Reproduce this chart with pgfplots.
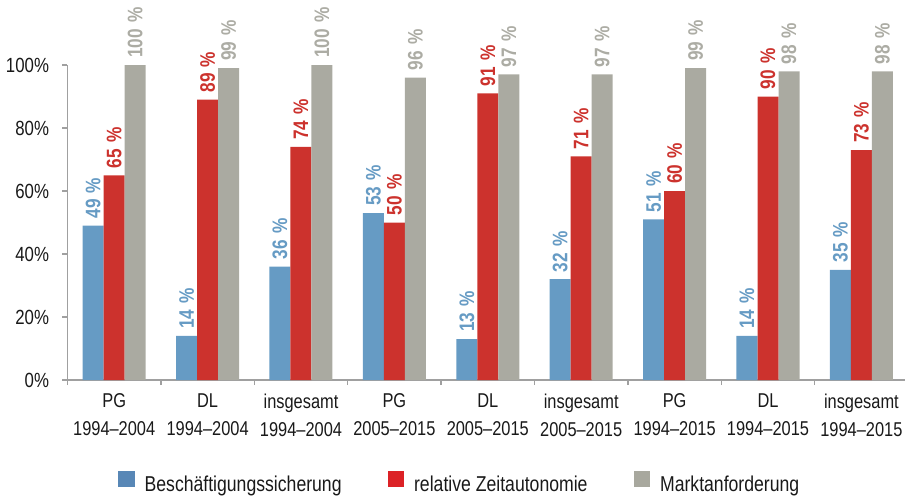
\documentclass[border=0pt]{standalone}
\usepackage{pgfplots}
\pgfplotsset{compat=1.18}
\usepackage{fontspec}
\setmainfont{Liberation Sans}[FakeStretch=0.82]
\definecolor{cblue}{RGB}{102,155,196}
\definecolor{cred}{RGB}{204,50,45}
\definecolor{cgray}{RGB}{170,170,161}
\definecolor{lblue}{RGB}{88,135,182}
\definecolor{lred}{RGB}{220,34,38}
\definecolor{lgray}{RGB}{168,168,158}
\definecolor{tgray}{RGB}{172,172,164}
\definecolor{axgray}{RGB}{160,160,160}
\definecolor{txt}{RGB}{25,25,25}
\pgfplotstableread{
x b r g
0 49 65 100
1 14 89 99
2 36 74 100
3 53 50 96
4 13 91 97
5 32 71 97
6 51 60 99
7 14 90 98
8 35 73 98
}\data
\begin{document}
\begin{tikzpicture}
\begin{axis}[
  scale only axis, width=840.6pt, height=315pt,
  ymin=0, ymax=100, xmin=-0.5, xmax=8.5,
  clip=false,
  ybar=0pt, bar width=21pt,
  axis x line=bottom, axis y line=left,
  axis line style={draw=axgray, line width=1.3pt, -},
  tick align=outside,
  ytick={0,20,...,100},
  yticklabel={\pgfmathprintnumber{\tick}\%},
  ytick style={draw=axgray, line width=1.3pt},
  major tick length=5pt,
  xtick={0,...,8},
  xtick style={draw=none},
  minor xtick={-0.5,0.5,...,8.5},
  minor tick length=5pt,
  minor x tick style={draw=axgray, line width=1.3pt},
  xticklabels={{PG\\1994–2004},{DL\\1994–2004},{insgesamt\\1994–2004},{PG\\2005–2015},{DL\\2005–2015},{insgesamt\\2005–2015},{PG\\1994–2015},{DL\\1994–2015},{insgesamt\\1994–2015}},
  xticklabel style={align=center, font=\fontsize{20}{28}\selectfont, text=txt, yshift=-5pt},
  yticklabel style={font=\fontsize{20.5}{22}\selectfont, text=txt, xshift=-10pt},
  /pgf/number format/assume math mode=true,
  nodes near coords={\pgfmathprintnumber{\pgfplotspointmeta}\hspace{0.3em}\%},
  every node near coord/.append style={rotate=90, anchor=west, inner xsep=7pt, font=\bfseries\fontsize{21}{22}\selectfont},
  legend columns=-1,
  legend style={draw=none, fill=none, at={(0.06,-0.327)}, anchor=west, inner sep=0pt,
    font=\fontsize{21.5}{22}\selectfont, text=txt,
    /tikz/every odd column/.style={column sep=8pt},
    /tikz/every even column/.style={column sep=44pt}},
]
\addplot[fill=cblue, draw=none, every node near coord/.append style={text=cblue},
  legend image code/.code={\fill[lblue] (0pt,-3pt) rectangle (16.5pt,13.5pt);}] table[x=x, y=b] {\data};
\addplot[fill=cred, draw=none, every node near coord/.append style={text=cred},
  legend image code/.code={\fill[lred] (0pt,-3pt) rectangle (16.5pt,13.5pt);}] table[x=x, y=r] {\data};
\addplot[fill=cgray, draw=none, every node near coord/.append style={text=tgray},
  legend image code/.code={\fill[lgray] (0pt,-3pt) rectangle (16.5pt,13.5pt);}] table[x=x, y=g] {\data};
\legend{Beschäftigungssicherung, relative Zeitautonomie, Marktanforderung}
\end{axis}
\pgfresetboundingbox
\path (-67.5pt,-116pt) rectangle (837.5pt,380pt);
\end{tikzpicture}
\end{document}
